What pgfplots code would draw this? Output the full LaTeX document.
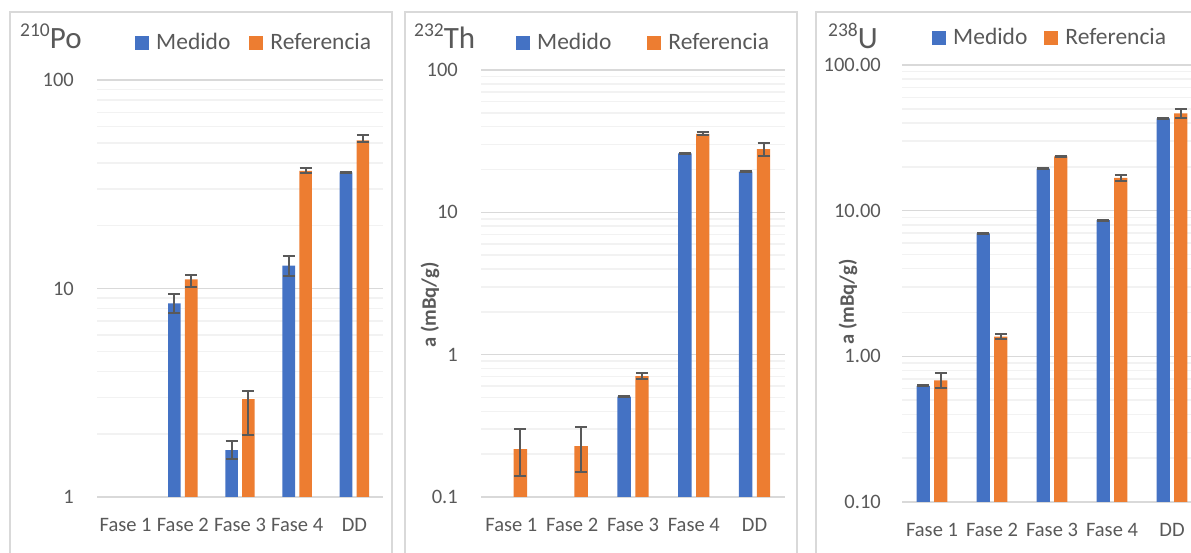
\documentclass[border=0pt]{standalone}
\usepackage{pgfplots}
\pgfplotsset{compat=1.18}
\usepackage{fontspec}
\setmainfont{Carlito}
\definecolor{cblue}{HTML}{4472C4}
\definecolor{corange}{HTML}{ED7D31}
\definecolor{ctext}{HTML}{595959}
\definecolor{cerr}{HTML}{595959}
\definecolor{cframe}{HTML}{D9D9D9}
\definecolor{gmaj}{HTML}{D9D9D9}
\definecolor{gmin}{HTML}{F2F2F2}
\begin{document}
\begin{tikzpicture}
\useasboundingbox (0pt,0pt) rectangle (1191pt,553pt);
\clip (0pt,0pt) rectangle (1191pt,553pt);
\draw[cframe, line width=1.3pt] (10pt,-20pt) -- (10pt,541pt) -- (392pt,541pt) -- (392pt,-20pt);
\draw[cframe, line width=1.3pt] (405pt,-20pt) -- (405pt,541pt) -- (797pt,541pt) -- (797pt,-20pt);
\draw[cframe, line width=1.3pt] (816pt,-20pt) -- (816pt,541pt) -- (1220pt,541pt);

% ---- 210Po
\begin{axis}[at={(97pt,56pt)}, anchor=south west, scale only axis, width=286pt, height=417pt,
  ymode=log, log origin=infty, ymin=1, ymax=100, xmin=-0.5, xmax=4.5,
  ytick={1,10,100}, yticklabels={1,10,100},
  minor ytick={2,3,4,5,6,7,8,9,20,30,40,50,60,70,80,90},
  xtick={0,1,2,3,4}, xticklabels={Fase 1,Fase 2,Fase 3,Fase 4,DD},
  major tick length=0pt, minor tick length=0pt,
  axis line style={draw=none},
  ymajorgrids, yminorgrids,
  major grid style={draw=gmaj, line width=1.5pt},
  minor grid style={draw=gmin, line width=1.5pt},
  ybar, bar width=0.22,
  tick label style={font=\fontsize{20.5}{24}\selectfont, text=ctext, inner sep=0pt},
  yticklabel style={anchor=east, xshift=-23pt},
  xticklabel style={anchor=north, yshift=-21pt},
  legend columns=2,
  legend style={draw=none, fill=none, inner sep=0pt, anchor=west, at={(0.1329,1.0916)},
     font=\fontsize{23.5}{28}\selectfont, text=ctext, nodes={inner sep=0pt},
     /tikz/every odd column/.append style={column sep=7pt},
     /tikz/every even column/.append style={column sep=19pt}},
  legend image code/.code={\fill[#1] (0pt,-8pt) rectangle (14pt,6pt);},
  ]
\addplot[fill=cblue, draw=none, bar shift=-0.147,
  error bars/.cd, y dir=both, y explicit,
  error bar style={line width=2pt, draw=cerr},
  error mark options={rotate=90, mark size=6pt, line width=2pt, draw=cerr}]
  table[x=x,y=y,y error plus=ep,y error minus=em]{
x y ep em
1 8.49 0.89 0.84
2 1.68 0.18 0.16
3 12.86 1.51 1.38
4 36.1 0.3 0.3
};
\addlegendentry{Medido}
\addplot[fill=corange, draw=none, bar shift=0.147,
  error bars/.cd, y dir=both, y explicit,
  error bar style={line width=2pt, draw=cerr},
  error mark options={rotate=90, mark size=6pt, line width=2pt, draw=cerr}]
  table[x=x,y=y,y error plus=ep,y error minus=em]{
x y ep em
1 11.07 0.50 0.90
2 2.95 0.26 0.97
3 36.7 1.0 0.8
4 51.3 3.2 0.7
};
\addlegendentry{Referencia}
\end{axis}

% ---- 232Th
\begin{axis}[at={(481pt,56pt)}, anchor=south west, scale only axis, width=304pt, height=427pt,
  ymode=log, log origin=infty, ymin=0.1, ymax=100, xmin=-0.5, xmax=4.5,
  ytick={0.1,1,10,100}, yticklabels={0.1,1,10,100},
  minor ytick={0.2,0.3,0.4,0.5,0.6,0.7,0.8,0.9,2,3,4,5,6,7,8,9,20,30,40,50,60,70,80,90},
  xtick={0,1,2,3,4}, xticklabels={Fase 1,Fase 2,Fase 3,Fase 4,DD},
  major tick length=0pt, minor tick length=0pt,
  axis line style={draw=none},
  ymajorgrids, yminorgrids,
  major grid style={draw=gmaj, line width=1.5pt},
  minor grid style={draw=gmin, line width=1.5pt},
  ybar, bar width=0.22,
  tick label style={font=\fontsize{20.5}{24}\selectfont, text=ctext, inner sep=0pt},
  yticklabel style={anchor=east, xshift=-23pt},
  xticklabel style={anchor=north, yshift=-21pt},
  legend columns=2,
  legend style={draw=none, fill=none, inner sep=0pt, anchor=west, at={(0.1151,1.066)},
     font=\fontsize{23.5}{28}\selectfont, text=ctext, nodes={inner sep=0pt},
     /tikz/every odd column/.append style={column sep=7pt},
     /tikz/every even column/.append style={column sep=36pt}},
  legend image code/.code={\fill[#1] (0pt,-8pt) rectangle (14pt,6pt);},
  ]
\addplot[fill=cblue, draw=none, bar shift=-0.147,
  error bars/.cd, y dir=both, y explicit,
  error bar style={line width=2pt, draw=cerr},
  error mark options={rotate=90, mark size=6pt, line width=2pt, draw=cerr}]
  table[x=x,y=y,y error plus=ep,y error minus=em]{
x y ep em
2 0.507 0.004 0.004
3 26.0 0.2 0.2
4 19.3 0.15 0.15
};
\addlegendentry{Medido}
\addplot[fill=corange, draw=none, bar shift=0.147,
  error bars/.cd, y dir=both, y explicit,
  error bar style={line width=2pt, draw=cerr},
  error mark options={rotate=90, mark size=6pt, line width=2pt, draw=cerr}]
  table[x=x,y=y,y error plus=ep,y error minus=em]{
x y ep em
0 0.217 0.083 0.077
1 0.228 0.082 0.078
2 0.708 0.040 0.036
3 35.6 1.3 0.8
4 27.8 3.1 2.9
};
\addlegendentry{Referencia}
\end{axis}

% ---- 238U
\begin{axis}[at={(902pt,51pt)}, anchor=south west, scale only axis, width=300pt, height=437pt,
  ymode=log, log origin=infty, ymin=0.1, ymax=100, xmin=-0.5, xmax=4.5,
  ytick={0.1,1,10,100}, yticklabels={0.10,1.00,10.00,100.00},
  minor ytick={0.2,0.3,0.4,0.5,0.6,0.7,0.8,0.9,2,3,4,5,6,7,8,9,20,30,40,50,60,70,80,90},
  xtick={0,1,2,3,4}, xticklabels={Fase 1,Fase 2,Fase 3,Fase 4,DD},
  major tick length=0pt, minor tick length=0pt,
  axis line style={draw=none},
  ymajorgrids, yminorgrids,
  major grid style={draw=gmaj, line width=1.5pt},
  minor grid style={draw=gmin, line width=1.5pt},
  ybar, bar width=0.22,
  tick label style={font=\fontsize{20.5}{24}\selectfont, text=ctext, inner sep=0pt},
  yticklabel style={anchor=east, xshift=-21pt},
  xticklabel style={anchor=north, yshift=-21pt},
  legend columns=2,
  legend style={draw=none, fill=none, inner sep=0pt, anchor=west, at={(0.1,1.0645)},
     font=\fontsize{23.5}{28}\selectfont, text=ctext, nodes={inner sep=0pt},
     /tikz/every odd column/.append style={column sep=7pt},
     /tikz/every even column/.append style={column sep=17pt}},
  legend image code/.code={\fill[#1] (0pt,-8pt) rectangle (14pt,6pt);},
  ]
\addplot[fill=cblue, draw=none, bar shift=-0.147,
  error bars/.cd, y dir=both, y explicit,
  error bar style={line width=2pt, draw=cerr},
  error mark options={rotate=90, mark size=6pt, line width=2pt, draw=cerr}]
  table[x=x,y=y,y error plus=ep,y error minus=em]{
x y ep em
0 0.628 0.005 0.005
1 6.99 0.06 0.06
2 19.4 0.15 0.15
3 8.6 0.07 0.07
4 43.0 0.35 0.35
};
\addlegendentry{Medido}
\addplot[fill=corange, draw=none, bar shift=0.147,
  error bars/.cd, y dir=both, y explicit,
  error bar style={line width=2pt, draw=cerr},
  error mark options={rotate=90, mark size=6pt, line width=2pt, draw=cerr}]
  table[x=x,y=y,y error plus=ep,y error minus=em]{
x y ep em
0 0.684 0.084 0.075
1 1.364 0.056 0.049
2 23.6 0.2 0.2
3 16.8 0.8 0.8
4 46.6 3.0 3.2
};
\addlegendentry{Referencia}
\end{axis}

\node[anchor=base west, inner sep=0pt, text=ctext] at (20pt,504pt) {\fontsize{19.5}{21}\selectfont\raisebox{12pt}{210}\fontsize{31}{34}\selectfont Po};
\node[anchor=base west, inner sep=0pt, text=ctext] at (414pt,504pt) {\fontsize{19.5}{21}\selectfont\raisebox{12pt}{232}\fontsize{31}{34}\selectfont Th};
\node[anchor=base west, inner sep=0pt, text=ctext] at (828pt,504pt) {\fontsize{19.5}{21}\selectfont\raisebox{12pt}{238}\fontsize{31}{34}\selectfont U};
\node[rotate=90, inner sep=0pt, text=ctext, font=\bfseries\fontsize{20.5}{23}\selectfont] at (430pt,248pt) {a (mBq/g)};
\node[rotate=90, inner sep=0pt, text=ctext, font=\bfseries\fontsize{20.5}{23}\selectfont] at (848pt,251pt) {a (mBq/g)};
\end{tikzpicture}
\end{document}
